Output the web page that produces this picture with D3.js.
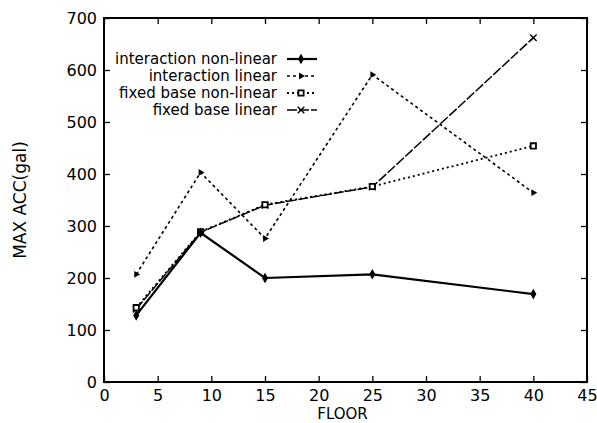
<!DOCTYPE html>
<html>
<head>
<meta charset="utf-8">
<script src="https://cdn.jsdelivr.net/npm/d3@7"></script>
<style>
  body { margin: 0; background: #fff; }
  text { font-family: "DejaVu Sans", sans-serif; fill: #000; }
</style>
</head>
<body>
<div id="chart"></div>
<script>
// data
var floors = [3, 9, 15, 25, 40];
var interactionNonLinear = [128, 287, 200, 207, 169];
var interactionLinear = [207, 403, 276, 591, 364];
var fixedBaseNonLinear = [143, 289, 341, 376, 454];
var fixedBaseLinear = [140, 288, 340, 375, 662];
var seriesNames = ["interaction non-linear", "interaction linear", "fixed base non-linear", "fixed base linear"];
var xTicks = [0, 5, 10, 15, 20, 25, 30, 35, 40, 45];
var yTicks = [0, 100, 200, 300, 400, 500, 600, 700];

var margin = {top: 18, right: 10, bottom: 41, left: 104},
    width = 597 - margin.left - margin.right,
    height = 423 - margin.top - margin.bottom;

var svg = d3.select("#chart")
    .append("svg")
        .attr("width", width + margin.left + margin.right)
        .attr("height", height + margin.top + margin.bottom)
    .append("g")
        .attr("transform", "translate(" + margin.left + "," + margin.top + ")");

var x = d3.scaleLinear().domain([0, 45]).range([0, width]);
var y = d3.scaleLinear().domain([0, 700]).range([height, 0]);

// axes, gnuplot style: inward ticks on all four sides
svg.append("g")
    .attr("transform", "translate(0," + height + ")")
    .call(d3.axisBottom(x).tickValues(xTicks).tickSizeInner(-6).tickSizeOuter(0).tickPadding(8))
    .call(g => g.selectAll("text").style("font-size", "16px"));
svg.append("g")
    .call(d3.axisLeft(y).tickValues(yTicks).tickSizeInner(-6).tickSizeOuter(0).tickPadding(7))
    .call(g => g.selectAll("text").style("font-size", "16px"));
svg.append("g")
    .call(d3.axisTop(x).tickValues(xTicks).tickSizeInner(-6).tickSizeOuter(0).tickFormat(""));
svg.append("g")
    .attr("transform", "translate(" + width + ",0)")
    .call(d3.axisRight(y).tickValues(yTicks).tickSizeInner(-6).tickSizeOuter(0).tickFormat(""));
svg.selectAll(".domain").remove();
svg.selectAll(".tick line").attr("stroke", "#000").attr("stroke-width", 1.3);

svg.append("rect")
    .attr("width", width)
    .attr("height", height)
    .attr("fill", "none")
    .attr("stroke", "#000")
    .attr("stroke-width", 2);

// axis titles
svg.append("text")
    .attr("x", x(22.5) - 3)
    .attr("y", height + 37)
    .attr("text-anchor", "middle")
    .style("font-size", "15px")
    .text("FLOOR");
svg.append("text")
    .attr("transform", "translate(" + (20 - margin.left + 6) + "," + (200 - margin.top) + ") rotate(-90)")
    .attr("text-anchor", "middle")
    .style("font-size", "17px")
    .text("MAX ACC(gal)");

var series = [
    {name: seriesNames[0], values: interactionNonLinear, dash: null, width: 2.2, marker: "diamond"},
    {name: seriesNames[1], values: interactionLinear, dash: "3,3", width: 1.6, marker: "triangle"},
    {name: seriesNames[2], values: fixedBaseNonLinear, dash: "2,3", width: 1.8, marker: "square"},
    {name: seriesNames[3], values: fixedBaseLinear, dash: "10,2", width: 1.5, marker: "times"}
];

var line = d3.line()
    .x(d => x(d.floor))
    .y(d => y(d.acc));

function drawMarker(g, type, cx, cy) {
    if (type === "diamond") {
        g.append("path").attr("d", d3.symbol(d3.symbolDiamond, 32)())
            .attr("transform", "translate(" + cx + "," + cy + ")").attr("fill", "#000");
    } else if (type === "triangle") {
        g.append("path").attr("d", d3.symbol(d3.symbolTriangle, 20)())
            .attr("transform", "translate(" + cx + "," + cy + ") rotate(-30)").attr("fill", "#000");
    } else if (type === "square") {
        g.append("path").attr("d", d3.symbol(d3.symbolSquare, 28)())
            .attr("transform", "translate(" + cx + "," + cy + ")")
            .attr("fill", "#fff").attr("stroke", "#000").attr("stroke-width", 1.8);
    } else {
        g.append("path").attr("d", d3.symbol(d3.symbolTimes || d3.symbolCross, 30)())
            .attr("transform", "translate(" + cx + "," + cy + ")")
            .attr("fill", "none").attr("stroke", "#000").attr("stroke-width", 1.4);
    }
}

// draw in reverse so the solid line sits on top
series.slice().reverse().forEach(function(s) {
    var pts = floors.map((f, i) => ({floor: f, acc: s.values[i]}));
    var g = svg.append("g");
    g.append("path")
        .datum(pts)
        .attr("d", line)
        .attr("fill", "none")
        .attr("stroke", "#000")
        .attr("stroke-width", s.width)
        .attr("stroke-dasharray", s.dash);
    pts.forEach(p => drawMarker(g, s.marker, x(p.floor), y(p.acc)));
});

// legend
var legend = svg.append("g").attr("transform", "translate(" + (277 - margin.left) + "," + (59 - margin.top) + ")");
series.forEach(function(s, i) {
    var row = legend.append("g").attr("transform", "translate(0," + (i * 17) + ")");
    row.append("text")
        .attr("x", 0)
        .attr("y", 5)
        .attr("text-anchor", "end")
        .style("font-size", "15px")
        .text(s.name);
    row.append("line")
        .attr("x1", 10).attr("x2", 40)
        .attr("y1", 0).attr("y2", 0)
        .attr("stroke", "#000")
        .attr("stroke-width", s.width)
        .attr("stroke-dasharray", s.dash);
    drawMarker(row, s.marker, 24, 0);
});
</script>
</body>
</html>
